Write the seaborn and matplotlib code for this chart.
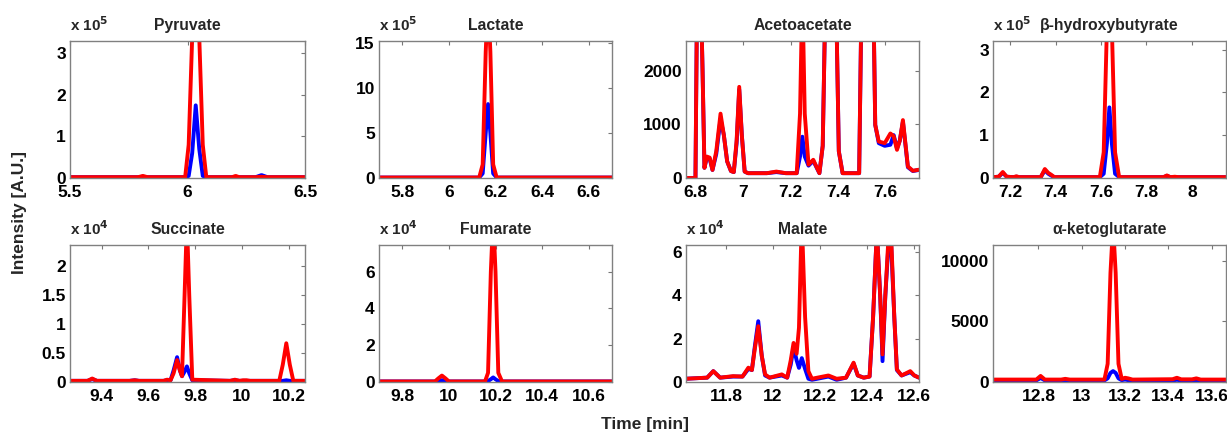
import matplotlib
matplotlib.use('Agg')
import matplotlib.pyplot as plt
import seaborn as sns

# ---- data ----
# each panel: time [min], red trace, blue trace; values in the panel's display unit
pyr_t = [5.5, 5.79, 5.81, 5.83, 5.99, 6.005, 6.02, 6.035, 6.05, 6.065, 6.08, 6.19, 6.205, 6.22, 6.29, 6.315, 6.34, 6.5]
pyr_red = [0.02, 0.02, 0.05, 0.02, 0.02, 0.8, 3.4, 4.5, 3.4, 0.8, 0.02, 0.02, 0.05, 0.02, 0.02, 0.03, 0.02, 0.02]
pyr_blue = [0.02, 0.02, 0.03, 0.02, 0.02, 0.05, 0.6, 1.75, 0.7, 0.05, 0.02, 0.02, 0.02, 0.02, 0.02, 0.07, 0.02, 0.02]

lac_t = [5.7, 6.13, 6.145, 6.158, 6.168, 6.178, 6.19, 6.205, 6.7]
lac_red = [0.05, 0.05, 1.5, 14, 20, 14, 1.5, 0.05, 0.05]
lac_blue = [0.05, 0.05, 0.5, 5, 8.2, 5, 0.5, 0.05, 0.05]

aca_t = [6.758, 6.798, 6.802, 6.808, 6.818, 6.828, 6.836, 6.846, 6.858, 6.870, 6.886, 6.904, 6.918, 6.932,
         6.948, 6.960, 6.972, 6.983, 6.994, 7.006, 7.020, 7.100, 7.140, 7.180, 7.226, 7.240, 7.250, 7.260,
         7.276, 7.296, 7.322, 7.336, 7.350, 7.370, 7.392, 7.404, 7.420, 7.490, 7.502, 7.525, 7.548, 7.558,
         7.573, 7.598, 7.622, 7.636, 7.650, 7.662, 7.675, 7.696, 7.717, 7.743]
aca_red = [0, 0, 2000, 5000, 4000, 2000, 190, 400, 380, 150, 500, 1200, 800, 310, 130, 110, 700, 1700, 800,
           120, 90, 90, 120, 90, 90, 1200, 3500, 1200, 250, 340, 90, 600, 4000, 6000, 3500, 500, 90, 90, 4000,
           7000, 4000, 990, 680, 650, 830, 780, 525, 700, 1080, 215, 135, 155]
aca_blue = [0, 0, 2000, 5000, 4000, 2000, 190, 380, 360, 150, 450, 1100, 800, 310, 130, 110, 650, 1650, 800,
            120, 90, 90, 110, 90, 90, 400, 770, 400, 230, 320, 90, 600, 4000, 6000, 3500, 500, 90, 90, 4000,
            7000, 4000, 990, 650, 600, 620, 800, 550, 700, 1050, 200, 130, 150]

bhb_t = [7.125, 7.15, 7.168, 7.185, 7.215, 7.228, 7.24, 7.335, 7.353, 7.368, 7.38, 7.395, 7.595, 7.612,
         7.626, 7.637, 7.648, 7.662, 7.68, 7.875, 7.89, 7.905, 7.925, 7.94, 8.15]
bhb_red = [0.02, 0.03, 0.14, 0.03, 0.02, 0.04, 0.02, 0.02, 0.21, 0.12, 0.08, 0.02, 0.02, 0.6, 3.5, 4.5, 3.5,
           0.6, 0.02, 0.02, 0.06, 0.02, 0.03, 0.02, 0.02]
bhb_blue = [0.02, 0.03, 0.12, 0.03, 0.02, 0.03, 0.02, 0.02, 0.18, 0.1, 0.06, 0.02, 0.02, 0.1, 0.8, 1.65, 0.8,
            0.1, 0.02, 0.02, 0.05, 0.02, 0.02, 0.02, 0.02]

suc_t = [9.265, 9.34, 9.36, 9.38, 9.52, 9.542, 9.56, 9.665, 9.68, 9.695, 9.708, 9.723, 9.735, 9.744, 9.755,
         9.765, 9.775, 9.788, 9.95, 9.97, 9.99, 10.005, 10.02, 10.035, 10.16, 10.175, 10.19, 10.205, 10.22, 10.27]
suc_red = [0.02, 0.02, 0.06, 0.02, 0.02, 0.03, 0.02, 0.02, 0.04, 0.03, 0.15, 0.38, 0.2, 0.1, 1.5, 2.8, 1.5,
           0.04, 0.02, 0.04, 0.02, 0.03, 0.03, 0.02, 0.02, 0.3, 0.67, 0.3, 0.02, 0.02]
suc_blue = [0.02, 0.02, 0.05, 0.02, 0.02, 0.03, 0.02, 0.02, 0.03, 0.03, 0.2, 0.43, 0.2, 0.1, 0.18, 0.27, 0.15,
            0.03, 0.02, 0.03, 0.02, 0.02, 0.02, 0.02, 0.02, 0.02, 0.03, 0.02, 0.02, 0.02]

fum_t = [9.7, 9.94, 9.955, 9.97, 9.985, 10.0, 10.155, 10.168, 10.18, 10.19, 10.2, 10.212, 10.228, 10.7]
fum_red = [0.03, 0.03, 0.2, 0.35, 0.2, 0.03, 0.03, 0.5, 6.0, 9.0, 6.0, 0.5, 0.03, 0.03]
fum_blue = [0.03, 0.03, 0.06, 0.1, 0.06, 0.03, 0.03, 0.05, 0.15, 0.25, 0.15, 0.05, 0.03, 0.03]

mal_t = [11.63, 11.72, 11.746, 11.775, 11.83, 11.87, 11.895, 11.91, 11.922, 11.937, 11.952, 11.966, 11.985,
         12.037, 12.06, 12.075, 12.087, 12.10, 12.11, 12.122, 12.136, 12.15, 12.165, 12.235, 12.27, 12.31,
         12.342, 12.36, 12.385, 12.41, 12.425, 12.441, 12.455, 12.465, 12.477, 12.497, 12.515, 12.526, 12.546,
         12.583, 12.60, 12.62]
mal_red = [0.15, 0.2, 0.5, 0.2, 0.27, 0.25, 0.66, 0.55, 1.5, 2.57, 1.2, 0.35, 0.2, 0.35, 0.2, 1.0, 1.8, 1.3,
           2.5, 7.5, 3.0, 0.5, 0.15, 0.3, 0.15, 0.2, 0.89, 0.3, 0.2, 0.25, 3.0, 7.0, 4.0, 1.27, 4.0, 8.0, 3.0,
           0.58, 0.3, 0.5, 0.3, 0.2]
mal_blue = [0.15, 0.2, 0.5, 0.2, 0.25, 0.25, 0.6, 0.55, 1.6, 2.8, 1.2, 0.3, 0.2, 0.3, 0.2, 0.8, 1.6, 1.0, 0.65,
            1.1, 0.6, 0.15, 0.1, 0.25, 0.1, 0.2, 0.85, 0.3, 0.2, 0.25, 3.0, 7.0, 4.0, 0.96, 4.0, 7.5, 3.0, 0.55,
            0.3, 0.45, 0.3, 0.2]

akg_t = [12.59, 12.79, 12.81, 12.83, 12.905, 12.924, 12.945, 13.105, 13.12, 13.133, 13.145, 13.157, 13.17,
         13.185, 13.2, 13.215, 13.235, 13.42, 13.44, 13.46, 13.51, 13.53, 13.55, 13.667]
akg_red = [200, 200, 500, 200, 200, 260, 200, 200, 1500, 9000, 13000, 9000, 1500, 250, 350, 300, 200, 230,
           350, 220, 220, 300, 200, 200]
akg_blue = [130, 130, 330, 130, 130, 150, 130, 130, 300, 750, 900, 750, 300, 150, 200, 150, 130, 130, 180,
            130, 130, 160, 130, 130]

titles = ['Pyruvate', 'Lactate', 'Acetoacetate', '\u03b2-hydroxybutyrate',
          'Succinate', 'Fumarate', 'Malate', '\u03b1-ketoglutarate']
exponents = [5, 5, None, 5, 4, 4, 4, None]
xlims = [(5.5, 6.5), (5.7, 6.7), (6.758, 7.743), (7.125, 8.15),
         (9.265, 10.27), (9.7, 10.7), (11.63, 12.62), (12.59, 13.667)]
ylims = [(0, 3.3), (0, 15.2), (0, 2555), (0, 3.2), (0, 2.37), (0, 7.45), (0, 6.31), (0, 11300)]
xticks = [[5.5, 6, 6.5], [5.8, 6, 6.2, 6.4, 6.6], [6.8, 7, 7.2, 7.4, 7.6], [7.2, 7.4, 7.6, 7.8, 8],
          [9.4, 9.6, 9.8, 10, 10.2], [9.8, 10, 10.2, 10.4, 10.6], [11.8, 12, 12.2, 12.4, 12.6],
          [12.8, 13, 13.2, 13.4, 13.6]]
yticks = [[0, 1, 2, 3], [0, 5, 10, 15], [0, 1000, 2000], [0, 1, 2, 3],
          [0, 0.5, 1, 1.5, 2], [0, 2, 4, 6], [0, 2, 4, 6], [0, 5000, 10000]]

series = [(pyr_t, pyr_red, pyr_blue), (lac_t, lac_red, lac_blue), (aca_t, aca_red, aca_blue),
          (bhb_t, bhb_red, bhb_blue), (suc_t, suc_red, suc_blue), (fum_t, fum_red, fum_blue),
          (mal_t, mal_red, mal_blue), (akg_t, akg_red, akg_blue)]

sns.set_theme(style='white')
plt.rcParams['font.family'] = ['Liberation Sans', 'DejaVu Sans']
plt.rcParams['font.weight'] = 'bold'

W, H = 1227, 437
fig = plt.figure(figsize=(W / 100, H / 100), dpi=100)

col_left = [70, 379, 686, 993]
col_w = [235, 233, 233, 233]
row_top = [41, 245]
ax_h = 137

for i in range(8):
    r, c = divmod(i, 4)
    ax = fig.add_axes([col_left[c] / W, 1 - (row_top[r] + ax_h) / H, col_w[c] / W, ax_h / H])
    t, red, blue = series[i]
    sns.lineplot(x=t, y=blue, ax=ax, color='#0000ff', lw=2.8)
    sns.lineplot(x=t, y=red, ax=ax, color='#ff0000', lw=2.8)
    ax.set_xlim(*xlims[i])
    ax.set_ylim(*ylims[i])
    ax.set_xticks(xticks[i])
    ax.set_yticks(yticks[i])
    ax.set_xticklabels(['%g' % v for v in xticks[i]])
    ax.set_yticklabels(['%g' % v for v in yticks[i]])
    ax.tick_params(direction='in', length=3, width=0.8, color='#777777', top=True, right=True,
                   labelsize=12.5, labelcolor='black')
    ax.tick_params(axis='x', pad=5)
    ax.tick_params(axis='y', pad=3)
    for lab in ax.get_xticklabels() + ax.get_yticklabels():
        lab.set_fontweight('bold')
    for sp in ax.spines.values():
        sp.set_color('#808080')
        sp.set_linewidth(1.0)
    ax.set_title(titles[i], fontsize=11.3, fontweight='bold', pad=8)
    if exponents[i] is not None:
        ax.annotate('x 10$^{%d}$' % exponents[i], xy=(0, 1), xycoords='axes fraction',
                    xytext=(0, 5), textcoords='offset points', ha='left', va='bottom',
                    fontsize=11, fontweight='bold')

fig.text(20 / W, 1 - 212 / H, 'Intensity [A.U.]', rotation=90, ha='center', va='center',
         fontsize=12.5, fontweight='bold')
fig.text(645 / W, 1 - 424 / H, 'Time [min]', ha='center', va='center', fontsize=12.5, fontweight='bold')

fig.savefig('out.png', dpi=100)
